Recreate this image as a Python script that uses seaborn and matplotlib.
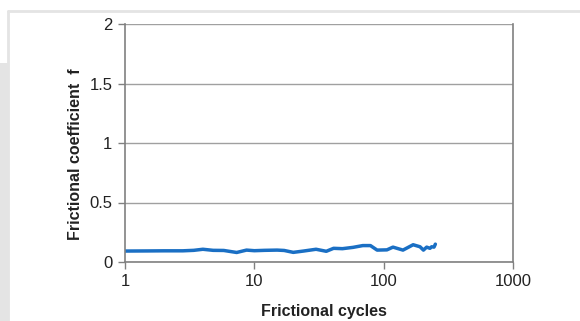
import matplotlib
matplotlib.use("Agg")
import matplotlib.pyplot as plt
import seaborn as sns
import pandas as pd
from matplotlib.patches import Rectangle
from matplotlib.lines import Line2D

sns.set_theme(style="white")
plt.rcParams['font.family'] = ['Liberation Sans', 'DejaVu Sans']

cycles = [1, 1.5, 2, 2.8, 3.4, 4.0, 4.8, 5.8, 7.3, 8.7, 10, 12, 15, 17, 20, 24,
          30, 36, 41, 48, 58, 69, 79, 89, 106, 118, 141, 169, 191, 203, 215, 228, 235, 245, 251]
friction = [0.092, 0.093, 0.094, 0.094, 0.098, 0.107, 0.098, 0.097, 0.080, 0.100, 0.095,
            0.098, 0.100, 0.097, 0.081, 0.092, 0.107, 0.090, 0.115, 0.112, 0.123, 0.138,
            0.138, 0.100, 0.102, 0.125, 0.100, 0.145, 0.128, 0.100, 0.125, 0.115, 0.128, 0.125, 0.150]
xticks = [1, 10, 100, 1000]
xticklabels = ["1", "10", "100", "1000"]
yticks = [0, 0.5, 1, 1.5, 2]
yticklabels = ["0", "0.5", "1", "1.5", "2"]

df = pd.DataFrame({"cycles": cycles, "f": friction})

fig = plt.figure(figsize=(5.8, 3.21), dpi=100)
fig.patch.set_facecolor("white")
W, H = 580, 321
# decorative page frame
fig.add_artist(Rectangle((0, 0), 9 / W, (H - 63) / H, transform=fig.transFigure,
                         facecolor="#e4e4e4", edgecolor="none", zorder=0))
fig.add_artist(Line2D([7.5 / W, 7.5 / W], [0, 1 - 10.5 / H], transform=fig.transFigure,
                      color="#e4e4e4", lw=2, zorder=0))
fig.add_artist(Line2D([7.5 / W, 1], [1 - 10.5 / H, 1 - 10.5 / H], transform=fig.transFigure,
                      color="#e4e4e4", lw=2, zorder=0))

ax = fig.add_axes([125 / W, 1 - 262 / H, (513 - 125) / W, (262 - 24) / H])
sns.lineplot(data=df, x="cycles", y="f", ax=ax, color="#1a6fc4", lw=2.5)
ax.set_xscale("log")
ax.set_xlim(1, 1000)
ax.set_ylim(0, 2)
ax.set_xticks(xticks)
ax.set_xticklabels(xticklabels)
ax.set_yticks(yticks)
ax.set_yticklabels(yticklabels)
ax.minorticks_off()
ax.yaxis.grid(True, color="#a0a0a0", lw=1)
ax.set_axisbelow(True)
for s in ["left", "bottom", "right"]:
    ax.spines[s].set_color("#808080")
    ax.spines[s].set_linewidth(1.2)
ax.spines["top"].set_visible(False)
ax.tick_params(axis="both", which="major", direction="out", length=5, width=1,
               color="#808080", labelsize=12, labelcolor="#222222", pad=4, bottom=True, left=True)
ax.set_xlabel("Frictional cycles", fontsize=11.5, fontweight="bold", color="#222222")
ax.set_ylabel("Frictional coefficient  f", fontsize=11.5, fontweight="bold", color="#222222")
ax.xaxis.set_label_coords(0.513, -0.21)
ax.yaxis.set_label_coords(-0.128, 0.454)
ax.xaxis.label.set_va("center")
ax.yaxis.label.set_va("center")

fig.savefig("out.png", dpi=100)
